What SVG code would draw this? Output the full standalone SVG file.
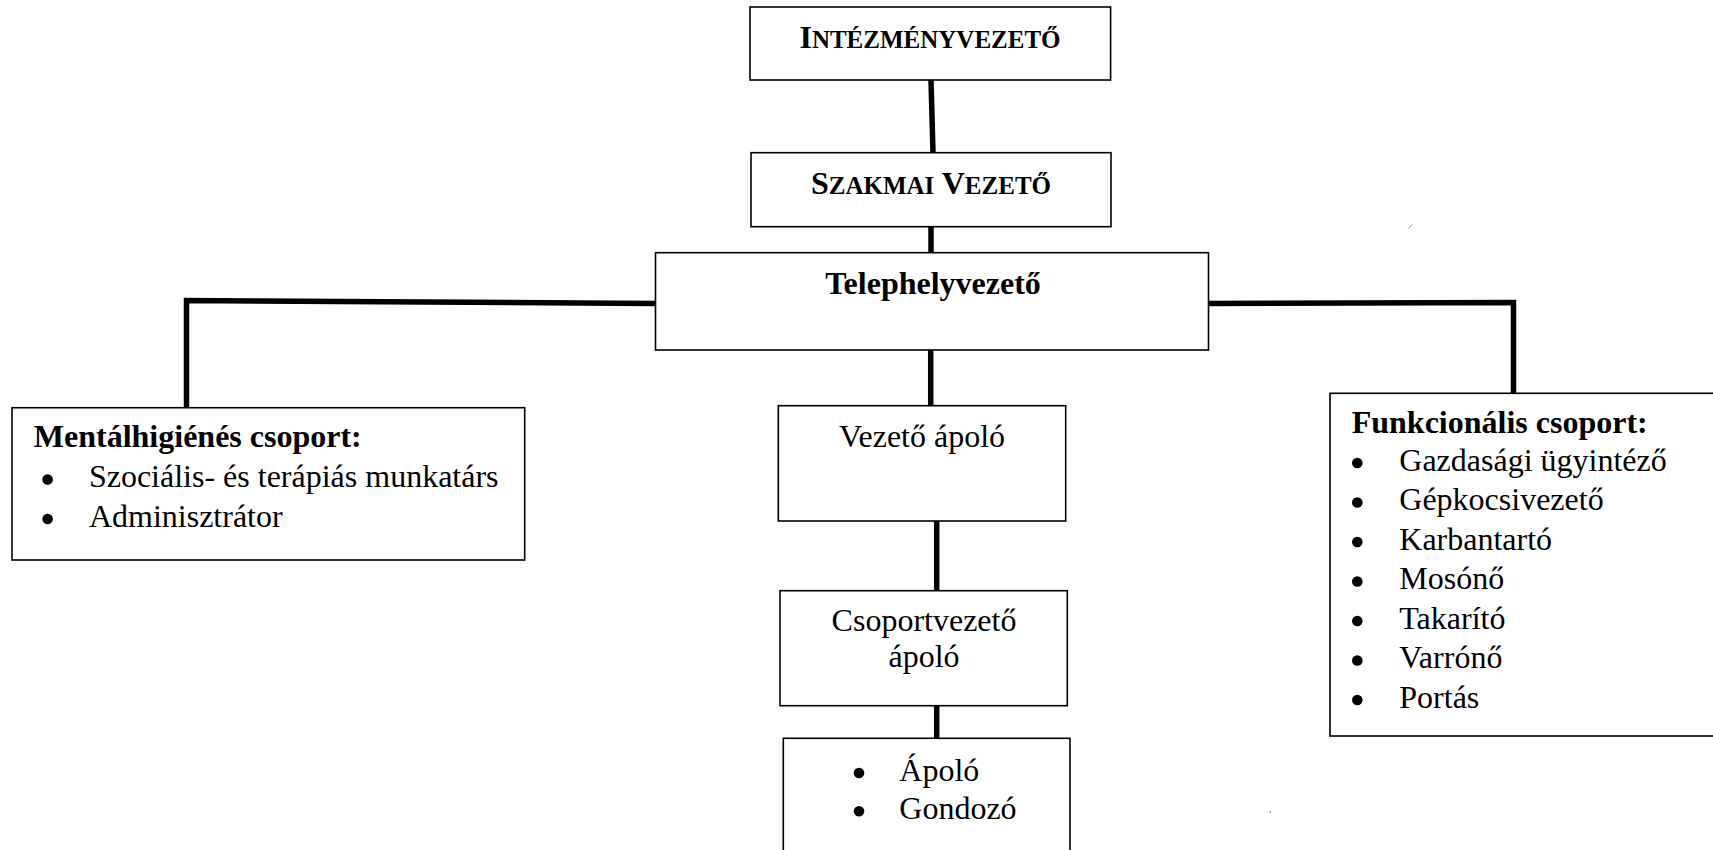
<svg xmlns="http://www.w3.org/2000/svg" width="1713" height="850" viewBox="0 0 1713 850">
<style>
.box{fill:#fff;stroke:#000;stroke-width:1.6}
text{font-family:'Liberation Serif','Times New Roman','DejaVu Serif',serif;font-size:32px;fill:#000}
.b{font-weight:bold}
.sc{font-size:25px}
.c{text-anchor:middle}
.con{fill:none;stroke:#000;stroke-width:5.5;stroke-linejoin:miter;stroke-linecap:butt}
.dot{fill:#000}
</style>
<rect width="1713" height="850" fill="#fff"/>
<g id="connectors">
<path class="con" d="M931 80 L933 153"/>
<path class="con" d="M931 227 L931 253"/>
<path class="con" d="M655 303.5 L186.5 300.5 L186.5 408"/>
<path class="con" d="M1208.5 303.5 L1513.5 302.5 L1513.5 393.5"/>
<path class="con" d="M930.7 350 V406"/>
<path class="con" d="M936.7 521 V591"/>
<path class="con" d="M936.7 705.7 V738.5"/>
</g>
<g id="intezmenyvezeto">
<rect class="box" x="750" y="7" width="360.6" height="73"/>
<text class="b c" x="930" y="48.3" font-family="Liberation Serif, serif">I<tspan class="sc">NTÉZMÉNYVEZETŐ</tspan></text>
</g>
<g id="szakmai-vezeto">
<rect class="box" x="751" y="152.7" width="360" height="74"/>
<text class="b c" x="931" y="194" font-family="Liberation Serif, serif">S<tspan class="sc">ZAKMAI</tspan> V<tspan class="sc">EZETŐ</tspan></text>
</g>
<g id="telephelyvezeto">
<rect class="box" x="655.5" y="252.7" width="553" height="97.3"/>
<text class="b c" x="933" y="294" font-family="Liberation Serif, serif">Telephelyvezető</text>
</g>
<g id="mentalhigienes" font-family="Liberation Serif, serif">
<rect class="box" x="12" y="407.7" width="512.7" height="152.3"/>
<text class="b" x="33.8" y="446.7">Mentálhigiénés csoport:</text>
<circle class="dot" cx="47.6" cy="479.5" r="5.3"/>
<text x="88.9" y="487.3">Szociális- és terápiás munkatárs</text>
<circle class="dot" cx="47.6" cy="519" r="5.3"/>
<text x="88.9" y="526.7">Adminisztrátor</text>
</g>
<g id="vezeto-apolo">
<rect class="box" x="778.3" y="405.7" width="287.4" height="115.3"/>
<text class="c" x="922" y="447.3">Vezető ápoló</text>
</g>
<g id="csoportvezeto-apolo">
<rect class="box" x="780" y="590.7" width="287.3" height="115"/>
<text class="c" x="924" y="631">Csoportvezető</text>
<text class="c" x="924" y="667">ápoló</text>
</g>
<g id="apolo-gondozo">
<rect class="box" x="783.3" y="738.3" width="286.7" height="120"/>
<circle class="dot" cx="859" cy="773" r="5.3"/>
<text x="899.3" y="780.7">Ápoló</text>
<circle class="dot" cx="859" cy="811.3" r="5.3"/>
<text x="899.3" y="819">Gondozó</text>
</g>
<g id="funkcionalis">
<rect class="box" x="1330" y="393.3" width="390" height="342.7"/>
<text class="b" x="1351.7" y="433.3">Funkcionális csoport:</text>
<circle class="dot" cx="1357.3" cy="463" r="5.3"/>
<text x="1399.3" y="470.5">Gazdasági ügyintéző</text>
<circle class="dot" cx="1357.3" cy="502.5" r="5.3"/>
<text x="1399.3" y="510">Gépkocsivezető</text>
<circle class="dot" cx="1357.3" cy="542" r="5.3"/>
<text x="1399.3" y="549.5">Karbantartó</text>
<circle class="dot" cx="1357.3" cy="581.5" r="5.3"/>
<text x="1399.3" y="589">Mosónő</text>
<circle class="dot" cx="1357.3" cy="621" r="5.3"/>
<text x="1399.3" y="628.5">Takarító</text>
<circle class="dot" cx="1357.3" cy="660.5" r="5.3"/>
<text x="1399.3" y="668">Varrónő</text>
<circle class="dot" cx="1357.3" cy="700" r="5.3"/>
<text x="1399.3" y="707.5">Portás</text>
</g>
<path d="M1408.5 228.5 L1412.5 224.5" stroke="#888" stroke-width="0.8" fill="none"/>
<rect x="1269.5" y="811" width="1.5" height="2" fill="#999"/>
</svg>
